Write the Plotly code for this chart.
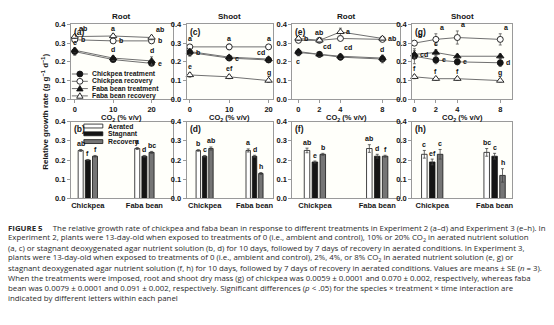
import plotly.graph_objects as go

W, H = 554, 325

# ---------------- data ----------------
x_exp2 = [0, 10, 20]
x_exp3 = [0, 2, 4, 8]
line_names = ["Chickpea treatment", "Chickpea recovery",
              "Faba bean treatment", "Faba bean recovery"]
bar_names = ["Aerated", "Stagnant", "Recovery"]
species = ["Chickpea", "Faba bean"]
y_ticks = [0.0, 0.1, 0.2, 0.3, 0.4]

# (a) root, Experiment 2
a_cp_trt = [0.255, 0.212, 0.192]
a_cp_trt_se = [0.020, 0.010, 0.010]
a_cp_trt_let = ["", "", "e"]
a_cp_rec = [0.318, 0.312, 0.312]
a_cp_rec_se = [0.008, 0.006, 0.010]
a_cp_rec_let = ["b", "b", "b"]
a_fb_trt = [0.262, 0.220, 0.205]
a_fb_trt_se = [0.010, 0.012, 0.022]
a_fb_trt_let = ["c", "d", "d"]
a_fb_rec = [0.335, 0.338, 0.330]
a_fb_rec_se = [0.010, 0.010, 0.012]
a_fb_rec_let = ["ab", "a", "ab"]

# (c) shoot, Experiment 2
c_cp_trt = [0.250, 0.220, 0.210]
c_cp_trt_se = [0.020, 0.012, 0.010]
c_cp_trt_let = ["b", "c", "cd"]
c_cp_rec = [0.280, 0.280, 0.280]
c_cp_rec_se = [0.012, 0.015, 0.012]
c_cp_rec_let = ["a", "a", "a"]
c_fb_trt = [0.255, 0.225, 0.215]
c_fb_trt_se = [0.015, 0.010, 0.010]
c_fb_trt_let = ["", "", ""]
c_fb_rec = [0.130, 0.120, 0.100]
c_fb_rec_se = [0.012, 0.010, 0.010]
c_fb_rec_let = ["e", "ef", "g"]

# (e) root, Experiment 3
e_cp_trt = [0.250, 0.240, 0.225, 0.215]
e_cp_trt_se = [0.018, 0.015, 0.015, 0.020]
e_cp_trt_let = ["c", "", "", ""]
e_cp_rec = [0.315, 0.315, 0.325, 0.320]
e_cp_rec_se = [0.008, 0.008, 0.008, 0.008]
e_cp_rec_let = ["", "", "", ""]
e_fb_trt = [0.255, 0.240, 0.230, 0.220]
e_fb_trt_se = [0.012, 0.012, 0.012, 0.015]
e_fb_trt_let = ["", "cd", "cd", "d"]
e_fb_rec = [0.325, 0.315, 0.360, 0.325]
e_fb_rec_se = [0.010, 0.010, 0.020, 0.008]
e_fb_rec_let = ["b", "ab", "a", "ab"]

# (g) shoot, Experiment 3
g_cp_trt = [0.230, 0.210, 0.200, 0.195]
g_cp_trt_se = [0.040, 0.020, 0.015, 0.020]
g_cp_trt_let = ["", "e", "e", "d"]
g_cp_rec = [0.300, 0.320, 0.330, 0.320]
g_cp_rec_se = [0.010, 0.030, 0.035, 0.030]
g_cp_rec_let = ["b", "a", "a", "a"]
g_fb_trt = [0.240, 0.250, 0.230, 0.230]
g_fb_trt_se = [0.020, 0.015, 0.010, 0.012]
g_fb_trt_let = ["cd", "c", "", ""]
g_fb_rec = [0.120, 0.110, 0.110, 0.100]
g_fb_rec_se = [0.010, 0.008, 0.008, 0.008]
g_fb_rec_let = ["f", "f", "f", "g"]

# bar panels: values per species [Chickpea, Faba bean]
b_aer = [0.250, 0.260]; b_aer_se = [0.005, 0.005]; b_aer_let = ["ab", "a"]
b_stag = [0.200, 0.220]; b_stag_se = [0.003, 0.004]; b_stag_let = ["f", "d"]
b_rec = [0.220, 0.240]; b_rec_se = [0.004, 0.005]; b_rec_let = ["f", "bc"]

d_aer = [0.250, 0.250]; d_aer_se = [0.004, 0.008]; d_aer_let = ["b", "a"]
d_stag = [0.220, 0.220]; d_stag_se = [0.004, 0.005]; d_stag_let = ["c", "d"]
d_rec = [0.260, 0.130]; d_rec_se = [0.008, 0.005]; d_rec_let = ["ab", "h"]

f_aer = [0.250, 0.260]; f_aer_se = [0.012, 0.020]; f_aer_let = ["ab", "ab"]
f_stag = [0.190, 0.220]; f_stag_se = [0.005, 0.010]; f_stag_let = ["e", "d"]
f_rec = [0.230, 0.220]; f_rec_se = [0.005, 0.005]; f_rec_let = ["b", "f"]

h_aer = [0.230, 0.240]; h_aer_se = [0.020, 0.020]; h_aer_let = ["c", "bc"]
h_stag = [0.190, 0.220]; h_stag_se = [0.015, 0.015]; h_stag_let = ["ef", "c"]
h_rec = [0.230, 0.120]; h_rec_se = [0.025, 0.035]; h_rec_let = ["c", "h"]

caption_lines = [
    "<b>FIGURE 5</b>     The relative growth rate of chickpea and faba bean in response to different treatments in Experiment 2 (a–d) and Experiment 3 (e–h). In",
    "Experiment 2, plants were 13-day-old when exposed to treatments of 0 (i.e., ambient and control), 10% or 20% CO<sub>2</sub> in aerated nutrient solution",
    "(a, c) or stagnant deoxygenated agar nutrient solution (b, d) for 10 days, followed by 7 days of recovery in aerated conditions. In Experiment 3,",
    "plants were 13-day-old when exposed to treatments of 0 (i.e., ambient and control), 2%, 4%, or 8% CO<sub>2</sub> in aerated nutrient solution (e, g) or",
    "stagnant deoxygenated agar nutrient solution (f, h) for 10 days, followed by 7 days of recovery in aerated conditions. Values are means ± SE (<i>n</i> = 3).",
    "When the treatments were imposed, root and shoot dry mass (g) of chickpea was 0.0059 ± 0.0001 and 0.070 ± 0.002, respectively, whereas faba",
    "bean was 0.0079 ± 0.0001 and 0.091 ± 0.002, respectively. Significant differences (<i>p</i> < .05) for the species × treatment × time interaction are",
    "indicated by different letters within each panel",
]

# ---------------- style / layout ----------------
FONT = "Liberation Sans, Arial, sans-serif"
CAP_FONT = "Open Sans, DejaVu Sans, sans-serif"
INK = "#151515"
FRAME = "#9a9a9a"
BG = "#fffffa"
LINEC = "#707070"


def PX(px):
    return px / W


def PY(py):
    return 1 - py / H


cols = [(71, 173), (187, 273), (293, 401), (413, 513)]
top_row = (21, 98)
bot_row = (121, 200)

sym = {"Chickpea treatment": ("circle", INK),
       "Chickpea recovery": ("circle", "white"),
       "Faba bean treatment": ("triangle-up", INK),
       "Faba bean recovery": ("triangle-up", "white")}

line_panels = [
    dict(tag="(a)", title="Root", x=x_exp2, xr=[-1.0, 25.5], xt=[0, 10, 20],
         series=[(line_names[0], a_cp_trt, a_cp_trt_se, a_cp_trt_let, ["", "", "r"]),
                 (line_names[1], a_cp_rec, a_cp_rec_se, a_cp_rec_let, ["r", "r", "r"]),
                 (line_names[2], a_fb_trt, a_fb_trt_se, a_fb_trt_let, ["u", "u", "u"]),
                 (line_names[3], a_fb_rec, a_fb_rec_se, a_fb_rec_let, ["ur", "u", "ur"])]),
    dict(tag="(c)", title="Shoot", x=x_exp2, xr=[-0.8, 21.0], xt=[0, 10, 20],
         series=[(line_names[0], c_cp_trt, c_cp_trt_se, c_cp_trt_let, ["r", "r", "ul"]),
                 (line_names[1], c_cp_rec, c_cp_rec_se, c_cp_rec_let, ["u", "u", "u"]),
                 (line_names[2], c_fb_trt, c_fb_trt_se, c_fb_trt_let, ["", "", ""]),
                 (line_names[3], c_fb_rec, c_fb_rec_se, c_fb_rec_let, ["u", "u", "u"])]),
    dict(tag="(e)", title="Root", x=x_exp3, xr=[-0.57, 9.7], xt=[0, 2, 4, 8],
         series=[(line_names[0], e_cp_trt, e_cp_trt_se, e_cp_trt_let, ["d", "", "", ""]),
                 (line_names[1], e_cp_rec, e_cp_rec_se, e_cp_rec_let, ["", "", "", ""]),
                 (line_names[2], e_fb_trt, e_fb_trt_se, e_fb_trt_let, ["", "ur", "ur", "u"]),
                 (line_names[3], e_fb_rec, e_fb_rec_se, e_fb_rec_let, ["r", "u", "r", "r"])]),
    dict(tag="(g)", title="Shoot", x=x_exp3, xr=[-0.2, 9.1], xt=[0, 2, 4, 8],
         series=[(line_names[0], g_cp_trt, g_cp_trt_se, g_cp_trt_let, ["", "r", "r", "r"]),
                 (line_names[1], g_cp_rec, g_cp_rec_se, g_cp_rec_let, ["ur", "ur", "ur", "ur"]),
                 (line_names[2], g_fb_trt, g_fb_trt_se, g_fb_trt_let, ["r", "u", "", ""]),
                 (line_names[3], g_fb_rec, g_fb_rec_se, g_fb_rec_let, ["u", "u", "u", "u"])]),
]

bar_panels = [
    dict(tag="(b)", xr=[-0.30, 1.50],
         bars=[(b_aer, b_aer_se, b_aer_let), (b_stag, b_stag_se, b_stag_let), (b_rec, b_rec_se, b_rec_let)]),
    dict(tag="(d)", xr=[-0.36, 1.36],
         bars=[(d_aer, d_aer_se, d_aer_let), (d_stag, d_stag_se, d_stag_let), (d_rec, d_rec_se, d_rec_let)]),
    dict(tag="(f)", xr=[-0.36, 1.37],
         bars=[(f_aer, f_aer_se, f_aer_let), (f_stag, f_stag_se, f_stag_let), (f_rec, f_rec_se, f_rec_let)]),
    dict(tag="(h)", xr=[-0.32, 1.28],
         bars=[(h_aer, h_aer_se, h_aer_let), (h_stag, h_stag_se, h_stag_let), (h_rec, h_rec_se, h_rec_let)]),
]
bar_fill = ["white", INK, "#757575"]
BARGAP, GROUPGAP = 0.62, 0.3

place = {"u": (0, 6, "center", "top"), "ur": (2, 6, "left", "top"),
         "ul": (-2, 6, "right", "top"), "r": (4, 0, "left", "mid"),
         "d": (0, -6, "center", "bot")}

fig = go.Figure()
ann = []
shapes = []
layout = {}
letter_font = dict(family=FONT, size=7, color="#111111", weight="bold")
tick_font = dict(family=FONT, size=7.5, color=INK, weight="bold")
tag_font = dict(family=FONT, size=8.5, color=INK, weight="bold")


def yaxis_cfg(dom, anchor):
    return dict(domain=[PY(dom[1]), PY(dom[0])], range=[0, 0.4], tickvals=y_ticks,
                tickformat=".1f", ticks="outside", ticklen=3, tickcolor=FRAME,
                showline=True, linecolor=FRAME, linewidth=1, mirror=True,
                showgrid=False, zeroline=False, tickfont=tick_font, anchor=anchor)


# ---- line panels ----
for i, p in enumerate(line_panels):
    n = i + 1
    xs = "x" if n == 1 else f"x{n}"
    ys = "y" if n == 1 else f"y{n}"
    c0, c1 = cols[i]
    layout["xaxis" if n == 1 else f"xaxis{n}"] = dict(
        domain=[PX(c0), PX(c1)], range=p["xr"], tickvals=p["xt"], ticks="outside",
        ticklen=3, tickcolor=FRAME, showline=True, linecolor=FRAME, linewidth=1,
        mirror=True, showgrid=False, zeroline=False, tickfont=tick_font, anchor=ys)
    layout["yaxis" if n == 1 else f"yaxis{n}"] = yaxis_cfg(top_row, xs)
    for name, vals, se, lets, pl in p["series"]:
        s, fc = sym[name]
        fig.add_trace(go.Scatter(
            x=p["x"], y=vals, mode="lines+markers", name=name, showlegend=False,
            xaxis=xs, yaxis=ys, cliponaxis=False,
            line=dict(color=LINEC, width=1),
            marker=dict(symbol=s, size=6 if s == "circle" else 6.5, color=fc,
                        line=dict(color=INK, width=0.9)),
            error_y=dict(type="data", array=se, visible=True, color="#555",
                         thickness=0.8, width=1.5)))
        for xv, v, e, lt, pp in zip(p["x"], vals, se, lets, pl):
            if not lt:
                continue
            dx, dy, xa, kind = place[pp]
            yv = v + e if kind == "top" else (v - e if kind == "bot" else v)
            ann.append(dict(x=xv, y=yv, xref=xs, yref=ys, text=lt, showarrow=False,
                            xshift=dx, yshift=dy, xanchor=xa, yanchor="middle",
                            font=letter_font))
    # panel tag, title, x title
    ann.append(dict(x=PX(c0 + 1), y=PY(top_row[0] + 0.5), xref="paper", yref="paper",
                    text=p["tag"], showarrow=False, xanchor="left", yanchor="top",
                    font=tag_font))
    ann.append(dict(x=PX((c0 + c1) / 2), y=PY(13), xref="paper", yref="paper",
                    text=p["title"], showarrow=False, xanchor="center", yanchor="middle",
                    font=dict(family=FONT, size=8, color=INK, weight="bold")))
    ann.append(dict(x=PX((c0 + c1) / 2), y=PY(117), xref="paper", yref="paper",
                    text="CO<sub>2</sub> (% v/v)", showarrow=False, xanchor="center",
                    yanchor="middle", font=dict(family=FONT, size=7.5, color=INK, weight="bold")))

# ---- bar panels ----
slot = (1 - BARGAP) / 3
for i, p in enumerate(bar_panels):
    n = i + 5
    xs, ys = f"x{n}", f"y{n}"
    c0, c1 = cols[i]
    layout[f"xaxis{n}"] = dict(
        domain=[PX(c0), PX(c1)], range=p["xr"], tickvals=[0, 1], ticktext=species,
        ticks="", showline=True, linecolor=FRAME, linewidth=1, mirror=True,
        showgrid=False, zeroline=False, tickfont=dict(family=FONT, size=7.5, color=INK, weight="bold"),
        anchor=ys)
    layout[f"yaxis{n}"] = yaxis_cfg(bot_row, xs)
    for k, (vals, se, lets) in enumerate(p["bars"]):
        fig.add_trace(go.Bar(
            x=[0, 1], y=vals, name=bar_names[k], showlegend=False, xaxis=xs, yaxis=ys,
            marker=dict(color=bar_fill[k], line=dict(color=INK, width=0.8)),
            error_y=dict(type="data", array=se, visible=True, color="#444",
                         thickness=0.8, width=1.5)))
        for j, (v, e, lt) in enumerate(zip(vals, se, lets)):
            ann.append(dict(x=j + (k - 1) * slot, y=v + e, xref=xs, yref=ys, text=lt,
                            showarrow=False, yshift=6, xanchor="center", yanchor="middle",
                            font=letter_font))
    ann.append(dict(x=PX(c0 + 1), y=PY(bot_row[0] + 0.5), xref="paper", yref="paper",
                    text=p["tag"], showarrow=False, xanchor="left", yanchor="top",
                    font=tag_font))

# ---- line legend in (a) ----
leg_rows = [72, 79.5, 87, 94.5]
for name, ry in zip(line_names, leg_rows):
    s, fc = sym[name]
    shapes.append(dict(type="line", xref="paper", yref="paper", x0=PX(72), x1=PX(88),
                       y0=PY(ry), y1=PY(ry), line=dict(color=LINEC, width=1)))
    cx = 80
    if s == "circle":
        shapes.append(dict(type="circle", xref="paper", yref="paper",
                           x0=PX(cx - 3), x1=PX(cx + 3), y0=PY(ry + 3), y1=PY(ry - 3),
                           fillcolor=fc, line=dict(color=INK, width=0.9)))
    else:
        path = (f"M {PX(cx-3.2)} {PY(ry+2.4)} L {PX(cx+3.2)} {PY(ry+2.4)} "
                f"L {PX(cx)} {PY(ry-3.2)} Z")
        shapes.append(dict(type="path", xref="paper", yref="paper", path=path,
                           fillcolor=fc, line=dict(color=INK, width=0.9)))
    ann.append(dict(x=PX(90.5), y=PY(ry), xref="paper", yref="paper", text=name,
                    showarrow=False, xanchor="left", yanchor="middle",
                    font=dict(family=FONT, size=6.8, color=INK, weight="bold")))

# ---- bar legend in (b) ----
bleg_rows = [125.5, 133.5, 141.5]
for k, ry in enumerate(bleg_rows):
    shapes.append(dict(type="rect", xref="paper", yref="paper", x0=PX(84), x1=PX(103),
                       y0=PY(ry + 2), y1=PY(ry - 2), fillcolor=bar_fill[k],
                       line=dict(color=INK, width=0.8)))
    ann.append(dict(x=PX(106), y=PY(ry), xref="paper", yref="paper", text=bar_names[k],
                    showarrow=False, xanchor="left", yanchor="middle",
                    font=dict(family=FONT, size=6.8, color=INK, weight="bold")))

# ---- y title ----
ann.append(dict(x=PX(45), y=PY(111), xref="paper", yref="paper",
                text="Relative growth rate (g g<sup>−1</sup> d<sup>−1</sup>)", textangle=-90,
                showarrow=False, xanchor="center", yanchor="middle",
                font=dict(family=FONT, size=8, color=INK, weight="bold")))

# ---- caption ----
cap_y0, cap_dy = 230, 10.4
for li, txt in enumerate(caption_lines):
    ann.append(dict(x=PX(6), y=PY(cap_y0 + li * cap_dy), xref="paper", yref="paper",
                    text=txt, showarrow=False, xanchor="left", yanchor="middle",
                    font=dict(family=CAP_FONT, size=7.85, color="#2a2a2a")))

fig.update_layout(
    width=W, height=H, margin=dict(l=0, r=0, t=0, b=0),
    paper_bgcolor="white", plot_bgcolor=BG,
    barmode="group", bargap=BARGAP, bargroupgap=GROUPGAP,
    showlegend=False, annotations=ann, shapes=shapes,
    font=dict(family=FONT, color=INK),
    **layout)

fig.write_html("out.html")
